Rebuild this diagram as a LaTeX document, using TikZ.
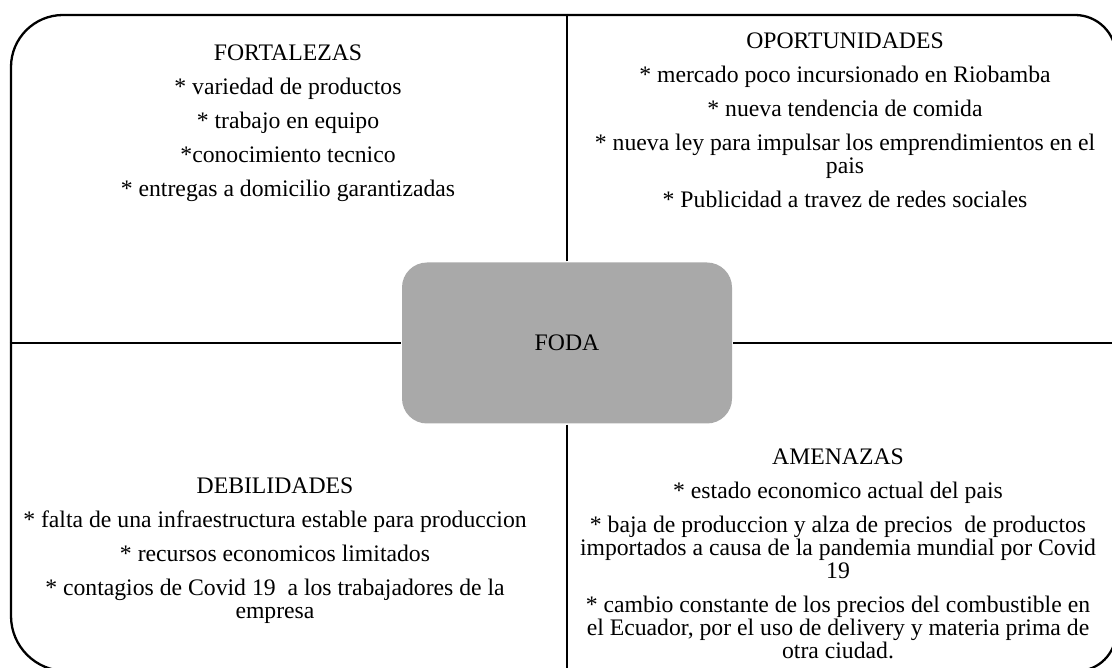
\documentclass[tikz,border=0pt]{standalone}
\usepackage{fontspec}
\setmainfont{Liberation Serif}
\usepackage{tikz}
\usetikzlibrary{positioning}
\definecolor{fodagray}{HTML}{A9A9A9}

\begin{document}
\begin{tikzpicture}[x=1pt, y=-1pt, line width=2.3pt,
  quad/.style={align=center, inner sep=0pt, anchor=north, font=\fontsize{23.7}{23}\selectfont},
  core/.style={fill=fodagray, rounded corners=25pt, inner sep=0pt, minimum width=330pt, minimum height=161pt, font=\fontsize{23.7}{23}\selectfont}]
        \useasboundingbox (0,0) rectangle (1112,668);
        \coordinate (ntop) at (567,15); \coordinate (nbot) at (567,671); \coordinate (nleft) at (11,343); \coordinate (nright) at (1116,343);

        % outer frame, one corner per quadrant
        \draw [rounded corners=52pt] (ntop) -- (11,15) -- (nleft);
        \draw [rounded corners=41pt] (ntop) -- (1116,15) -- (nright);
        \draw [rounded corners=55pt] (nleft) -- (11,671) -- (nbot);
        \draw [rounded corners=39pt] (nright) -- (1116,671) -- (nbot);

        \node (foda) [core] at (567,343) {FODA};
        \draw (foda) -- (ntop); \draw (foda) -- (nbot); \draw (foda) -- (nleft); \draw (foda) -- (nright);

        \node (fort) [quad] at (288,44) {FORTALEZAS\\[11pt] * variedad de productos\\[11pt] * trabajo en equipo\\[11pt] *conocimiento tecnico\\[11pt] * entregas a domicilio garantizadas};
        \node (opor) [quad] at (845,32) {OPORTUNIDADES\\[11pt] * mercado poco incursionado en Riobamba\\[11pt] * nueva tendencia de comida\\[11pt] * nueva ley para impulsar los emprendimientos en el\\ pais\\[11pt] * Publicidad a travez de redes sociales};
        \node (debil) [quad] at (275,477) {DEBILIDADES\\[11pt] * falta de una infraestructura estable para produccion\\[11pt] * recursos economicos limitados\\[11pt] * contagios de Covid 19~ a los trabajadores de la\\ empresa};
        \node (amen) [quad] at (838,448) {AMENAZAS\\[11pt] * estado economico actual del pais\\[11pt] * baja de produccion y alza de precios~ de productos\\ importados a causa de la pandemia mundial por Covid\\ 19\\[11pt] * cambio constante de los precios del combustible en\\ el Ecuador, por el uso de delivery y materia prima de\\ otra ciudad.};
\end{tikzpicture}
\end{document}
